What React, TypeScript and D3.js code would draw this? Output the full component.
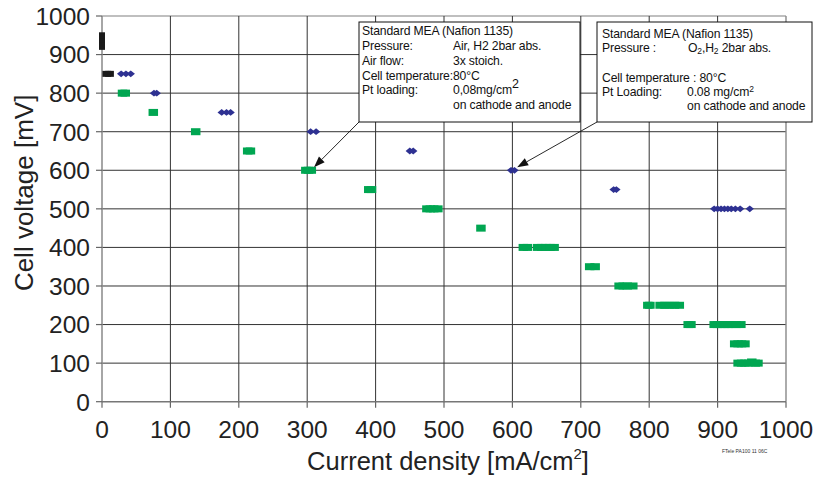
import React from "react";
import * as d3 from "d3";

// axis ticks
const xTicks = [0, 100, 200, 300, 400, 500, 600, 700, 800, 900, 1000];
const yTicks = [0, 100, 200, 300, 400, 500, 600, 700, 800, 900, 1000];

// open circuit / first points (black)
const blackPoints = [
  { i: 0, v: 920 }, { i: 0, v: 930 }, { i: 0, v: 940 }, { i: 0, v: 950 },
  { i: 5, v: 850 }, { i: 9, v: 850 }, { i: 13, v: 850 },
];

// O2 / H2 (blue diamonds)
const oxygenPoints = [
  { i: 28, v: 850 }, { i: 35, v: 850 }, { i: 42, v: 850 },
  { i: 76, v: 800 }, { i: 80, v: 800 },
  { i: 175, v: 750 }, { i: 182, v: 750 }, { i: 188, v: 750 },
  { i: 305, v: 700 }, { i: 313, v: 700 },
  { i: 450, v: 650 }, { i: 455, v: 650 },
  { i: 598, v: 600 }, { i: 603, v: 600 },
  { i: 748, v: 550 }, { i: 752, v: 550 },
  { i: 895, v: 500 }, { i: 900, v: 500 }, { i: 905, v: 500 }, { i: 910, v: 500 },
  { i: 915, v: 500 }, { i: 920, v: 500 }, { i: 926, v: 500 }, { i: 933, v: 500 },
  { i: 947, v: 500 },
];

// Air / H2 (green squares)
const airPoints = [
  { i: 30, v: 800 }, { i: 34, v: 800 },
  { i: 75, v: 750 },
  { i: 137, v: 700 },
  { i: 213, v: 650 }, { i: 217, v: 650 },
  { i: 298, v: 600 }, { i: 302, v: 600 }, { i: 306, v: 600 },
  { i: 390, v: 550 }, { i: 394, v: 550 },
  { i: 475, v: 500 }, { i: 480, v: 500 }, { i: 485, v: 500 }, { i: 491, v: 500 },
  { i: 554, v: 450 },
  { i: 616, v: 400 }, { i: 622, v: 400 },
  { i: 637, v: 400 }, { i: 643, v: 400 }, { i: 649, v: 400 }, { i: 655, v: 400 }, { i: 661, v: 400 },
  { i: 713, v: 350 }, { i: 721, v: 350 },
  { i: 756, v: 300 }, { i: 762, v: 300 }, { i: 768, v: 300 }, { i: 776, v: 300 },
  { i: 798, v: 250 }, { i: 801, v: 250 },
  { i: 816, v: 250 }, { i: 823, v: 250 }, { i: 830, v: 250 }, { i: 837, v: 250 }, { i: 844, v: 250 },
  { i: 857, v: 200 }, { i: 861, v: 200 },
  { i: 895, v: 200 }, { i: 900, v: 200 }, { i: 905, v: 200 }, { i: 910, v: 200 },
  { i: 915, v: 200 }, { i: 920, v: 200 }, { i: 927, v: 200 }, { i: 934, v: 200 },
  { i: 925, v: 150 }, { i: 930, v: 150 }, { i: 935, v: 150 }, { i: 940, v: 150 },
  { i: 930, v: 100 }, { i: 935, v: 100 }, { i: 940, v: 100 }, { i: 945, v: 100 },
  { i: 950, v: 103 }, { i: 955, v: 100 }, { i: 959, v: 100 },
];

// arrow targets (data coords)
const airArrowTarget = { i: 310, v: 608 };
const oxygenArrowTarget = { i: 607, v: 608 };

const font = "'Liberation Sans', Arial, Helvetica, sans-serif";
const green = "#00a651";
const blue = "#2e3192";

function Arrow({ x1, y1, x2, y2 }: { x1: number; y1: number; x2: number; y2: number }) {
  const a = Math.atan2(y2 - y1, x2 - x1);
  const len = 11, half = 4;
  const bx = x2 - len * Math.cos(a), by = y2 - len * Math.sin(a);
  const p1 = [bx + half * Math.sin(a), by - half * Math.cos(a)];
  const p2 = [bx - half * Math.sin(a), by + half * Math.cos(a)];
  return (
    <g>
      <line x1={x1} y1={y1} x2={bx} y2={by} stroke="#111" strokeWidth={0.9} />
      <polygon points={`${x2},${y2} ${p1[0]},${p1[1]} ${p2[0]},${p2[1]}`} fill="#111" />
    </g>
  );
}

export default function App() {
  const W = 814, H = 477;
  const margin = { top: 16, right: 28, bottom: 75.3, left: 102 };

  const x = d3.scaleLinear().domain([0, 1000]).range([margin.left, W - margin.right]);
  const y = d3.scaleLinear().domain([0, 1000]).range([H - margin.bottom, margin.top]);

  const box1 = { x: 359, y: 22, w: 221, h: 100 };
  const box2 = { x: 597, y: 22, w: 215, h: 100 };

  return (
    <svg width={W} height={H} style={{ position: "absolute", left: 0, top: 0, background: "#fff" }} fontFamily={font}>
      {/* grid */}
      {yTicks.filter((d) => d > 0).map((d) => (
        <line key={"gy" + d} x1={x(0)} x2={x(1000)} y1={y(d)} y2={y(d)}
          stroke={d === 1000 ? "#aaa" : "#333"} strokeWidth={d === 1000 ? 1.4 : 1} />
      ))}
      {xTicks.filter((d) => d > 0).map((d) => (
        <line key={"gx" + d} x1={x(d)} x2={x(d)} y1={y(0)} y2={y(1000)}
          stroke={d === 1000 ? "#888" : "#333"} strokeWidth={d === 1000 ? 1.4 : 1} />
      ))}
      {/* axes */}
      <line x1={x(0)} x2={x(0)} y1={y(0)} y2={y(1000)} stroke="#888" strokeWidth={1.5} />
      <line x1={x(0)} x2={x(1000)} y1={y(0)} y2={y(0)} stroke="#777" strokeWidth={1.5} />
      {yTicks.map((d) => (
        <g key={"ty" + d}>
          <line x1={x(0) - 6} x2={x(0)} y1={y(d)} y2={y(d)} stroke="#666" strokeWidth={1.2} />
          <text x={x(0) - 12} y={y(d)} dy="0.36em" textAnchor="end" fontSize={24.5} fill="#222">{d}</text>
        </g>
      ))}
      {xTicks.map((d) => (
        <g key={"tx" + d}>
          <line x1={x(d)} x2={x(d)} y1={y(0)} y2={y(0) + 6} stroke="#666" strokeWidth={1.2} />
          <text x={x(d)} y={y(0) + 36} textAnchor="middle" fontSize={24.5} fill="#222">{d}</text>
        </g>
      ))}

      {/* axis titles */}
      <text transform={`translate(33,${(y(0) + y(1000)) / 2 - 16}) rotate(-90)`} textAnchor="middle" fontSize={26} fill="#222">
        Cell voltage [mV]
      </text>
      <text x={448} y={470} textAnchor="middle" fontSize={25.5} fill="#222">
        Current density [mA/cm<tspan fontSize={15} dy={-11}>2</tspan><tspan dy={11}>]</tspan>
      </text>
      <text x={722} y={453} fontSize={5} fill="#333">FTele PA100 11 06C</text>

      {/* data */}
      {blackPoints.map((d, k) => (
        <rect key={"b" + k} x={x(d.i) - 3} y={y(d.v) - 3} width={6} height={6} fill="#1a1a1a" />
      ))}
      {airPoints.map((d, k) => (
        <rect key={"a" + k} x={x(d.i) - 4.75} y={y(d.v) - 3.5} width={9.5} height={7} fill={green} />
      ))}
      {oxygenPoints.map((d, k) => (
        <path key={"o" + k} transform={`translate(${x(d.i)},${y(d.v)})`}
          d="M-4.2,0 L0,-3.4 L4.2,0 L0,3.4 Z" fill={blue} />
      ))}

      {/* annotation 1 */}
      <Arrow x1={box1.x} y1={box1.y + box1.h} x2={x(airArrowTarget.i)} y2={y(airArrowTarget.v)} />
      <rect x={box1.x} y={box1.y} width={box1.w} height={box1.h} fill="#fff" stroke="#111" strokeWidth={1} />
      <g fontSize={12.2} fill="#111" letterSpacing={-0.15}>
        <text x={362} y={35}>Standard MEA (Nafion 1135)</text>
        <text x={362} y={50}>Pressure:</text>
        <text x={453} y={50}>Air, H2 2bar abs.</text>
        <text x={362} y={65}>Air flow:</text>
        <text x={453} y={65}>3x stoich.</text>
        <text x={362} y={79.5}>Cell temperature:80°C</text>
        <text x={362} y={94}>Pt loading:</text>
        <text x={453} y={94}>0,08mg/cm<tspan fontSize={12.5} dy={-6}>2</tspan></text>
        <text x={453} y={109}>on cathode and anode</text>
      </g>

      {/* annotation 2 */}
      <Arrow x1={box2.x} y1={box2.y + box2.h} x2={x(oxygenArrowTarget.i)} y2={y(oxygenArrowTarget.v)} />
      <rect x={box2.x} y={box2.y} width={box2.w} height={box2.h} fill="#fff" stroke="#111" strokeWidth={1} />
      <g fontSize={12.2} fill="#111" letterSpacing={-0.15}>
        <text x={602} y={37.5}>Standard MEA (Nafion 1135)</text>
        <text x={602} y={52}>Pressure :</text>
        <text x={688} y={52}>O<tspan fontSize={8.5} dy={1.5}>2</tspan><tspan dy={-1.5}>,H</tspan><tspan fontSize={8.5} dy={1.5}>2</tspan><tspan dy={-1.5}> 2bar abs.</tspan></text>
        <text x={602} y={81.5}>Cell temperature : 80°C</text>
        <text x={602} y={96}>Pt Loading:</text>
        <text x={687} y={96}>0.08 mg/cm<tspan fontSize={8.5} dy={-4}>2</tspan></text>
        <text x={687} y={110}>on cathode and anode</text>
      </g>
    </svg>
  );
}
